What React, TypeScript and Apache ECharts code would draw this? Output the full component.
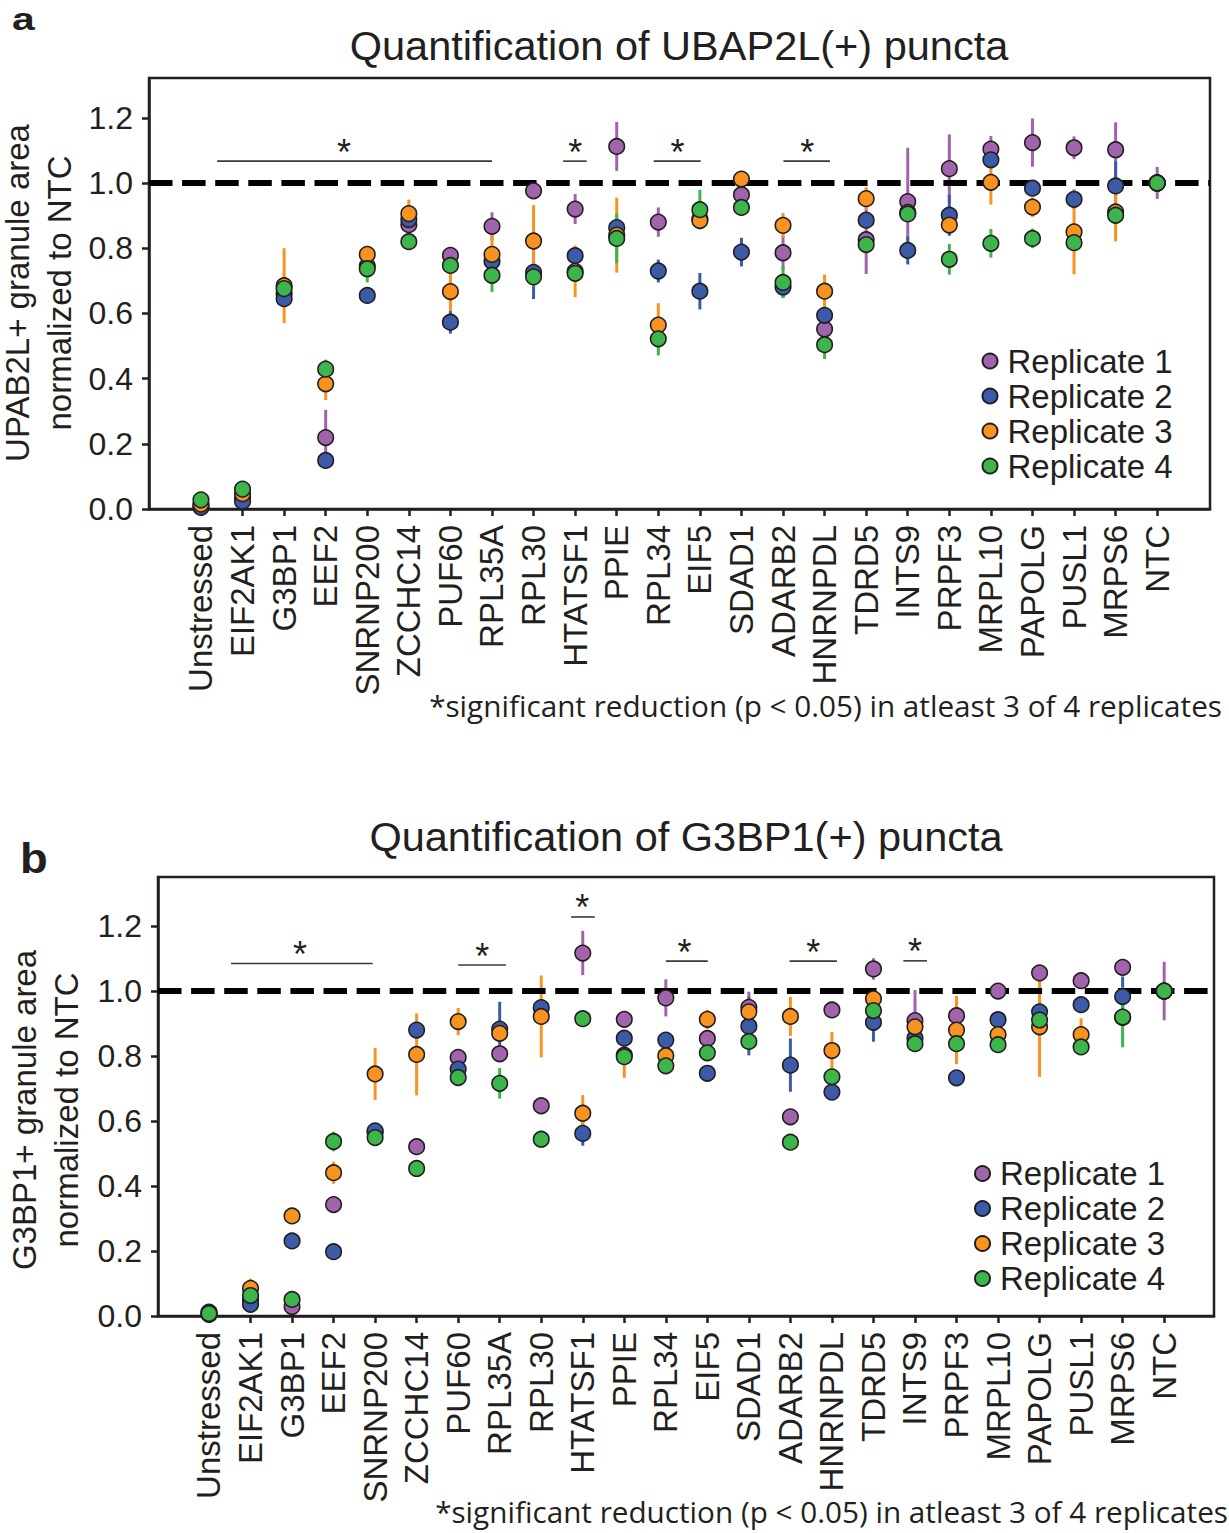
import React, { useEffect, useRef } from 'react';
import * as echarts from 'echarts';

const categories = ['Unstressed', 'EIF2AK1', 'G3BP1', 'EEF2', 'SNRNP200', 'ZCCHC14', 'PUF60', 'RPL35A', 'RPL30', 'HTATSF1', 'PPIE', 'RPL34', 'EIF5', 'SDAD1', 'ADARB2', 'HNRNPDL', 'TDRD5', 'INTS9', 'PRPF3', 'MRPL10', 'PAPOLG', 'PUSL1', 'MRPS6', 'NTC'];
const yTicks = [0, 0.2, 0.4, 0.6, 0.8, 1.0, 1.2];
const replicateNames = ['Replicate 1', 'Replicate 2', 'Replicate 3', 'Replicate 4'];
const replicateColors = ['#a163ab', '#3b5ba8', '#f7931e', '#3cb54a'];

// Panel a: UBAP2L(+) puncta
const ubap2lRep1 = [0.01, 0.035, 0.66, 0.219, 0.745, 0.872, 0.778, 0.867, 0.976, 0.92, 1.112, 0.88, 0.89, 0.964, 0.786, 0.552, 0.826, 0.943, 1.044, 1.104, 1.124, 1.108, 1.102, 1.0];
const ubap2lRep2 = [0.005, 0.024, 0.645, 0.149, 0.655, 0.888, 0.573, 0.76, 0.726, 0.777, 0.863, 0.73, 0.668, 0.788, 0.681, 0.594, 0.886, 0.793, 0.901, 1.071, 0.984, 0.95, 0.991, 1.0];
const ubap2lRep3 = [0.015, 0.047, 0.685, 0.384, 0.781, 0.906, 0.667, 0.781, 0.822, 0.729, 0.84, 0.564, 0.885, 1.012, 0.87, 0.668, 0.952, 0.91, 0.871, 1.002, 0.926, 0.85, 0.911, 1.0];
const ubap2lRep4 = [0.028, 0.061, 0.676, 0.429, 0.737, 0.82, 0.747, 0.717, 0.712, 0.723, 0.83, 0.522, 0.918, 0.925, 0.695, 0.504, 0.811, 0.905, 0.766, 0.815, 0.83, 0.817, 0.901, 1.0];
const ubap2lErr1 = [0.01, 0.01, 0.02, 0.085, 0.02, 0.02, 0.02, 0.043, 0.02, 0.046, 0.075, 0.045, 0.02, 0.02, 0.053, 0.02, 0.105, 0.165, 0.105, 0.04, 0.074, 0.035, 0.084, 0.049];
const ubap2lErr2 = [0.01, 0.01, 0.01, 0.01, 0.01, 0.02, 0.035, 0.02, 0.082, 0.02, 0.02, 0.035, 0.056, 0.044, 0.034, 0.02, 0.02, 0.043, 0.063, 0.02, 0.02, 0.03, 0.075, 0.01];
const ubap2lErr3 = [0.01, 0.01, 0.115, 0.05, 0.02, 0.043, 0.06, 0.06, 0.11, 0.079, 0.115, 0.067, 0.02, 0.02, 0.038, 0.051, 0.035, 0.02, 0.02, 0.068, 0.03, 0.13, 0.09, 0.01];
const ubap2lErr4 = [0.01, 0.01, 0.02, 0.029, 0.042, 0.02, 0.02, 0.051, 0.03, 0.02, 0.076, 0.051, 0.061, 0.02, 0.048, 0.044, 0.02, 0.02, 0.047, 0.044, 0.03, 0.02, 0.02, 0.01];
// significance bars: [from, to, y, star position] in category-index units
const ubap2lSig = [[0.39, 7.0, 1.067, 3.44], [8.71, 9.28, 1.067, 9.0], [10.89, 12.02, 1.067, 11.46], [14.01, 15.13, 1.067, 14.58]];

// Panel b: G3BP1(+) puncta
const g3bp1Rep1 = [0.012, 0.05, 0.029, 0.343, 0.565, 0.521, 0.796, 0.807, 0.647, 1.117, 0.913, 0.979, 0.854, 0.95, 0.613, 0.942, 1.068, 0.909, 0.924, 1.0, 1.056, 1.032, 1.073, 1.0];
const g3bp1Rep2 = [0.005, 0.036, 0.231, 0.198, 0.57, 0.88, 0.76, 0.883, 0.949, 0.562, 0.855, 0.849, 0.747, 0.892, 0.772, 0.689, 0.904, 0.855, 0.733, 0.912, 0.936, 0.958, 0.983, 1.0];
const g3bp1Rep3 = [0.01, 0.085, 0.308, 0.441, 0.745, 0.805, 0.906, 0.87, 0.922, 0.624, 0.803, 0.801, 0.913, 0.936, 0.922, 0.817, 0.976, 0.89, 0.88, 0.866, 0.89, 0.866, 0.919, 1.0];
const g3bp1Rep4 = [0.008, 0.063, 0.051, 0.537, 0.549, 0.454, 0.734, 0.716, 0.544, 0.915, 0.798, 0.77, 0.81, 0.845, 0.535, 0.736, 0.94, 0.838, 0.838, 0.835, 0.911, 0.828, 0.92, 1.0];
const g3bp1Err1 = [0.01, 0.01, 0.01, 0.01, 0.01, 0.02, 0.02, 0.02, 0.02, 0.068, 0.02, 0.057, 0.02, 0.048, 0.02, 0.02, 0.033, 0.094, 0.02, 0.02, 0.02, 0.02, 0.02, 0.09];
const g3bp1Err2 = [0.01, 0.01, 0.01, 0.01, 0.01, 0.02, 0.02, 0.084, 0.02, 0.038, 0.02, 0.02, 0.02, 0.09, 0.082, 0.02, 0.06, 0.03, 0.02, 0.02, 0.02, 0.02, 0.062, 0.01];
const g3bp1Err3 = [0.01, 0.03, 0.01, 0.034, 0.08, 0.126, 0.042, 0.02, 0.126, 0.056, 0.07, 0.02, 0.03, 0.02, 0.06, 0.057, 0.02, 0.02, 0.105, 0.02, 0.154, 0.05, 0.03, 0.01];
const g3bp1Err4 = [0.01, 0.01, 0.01, 0.03, 0.02, 0.01, 0.02, 0.047, 0.02, 0.01, 0.02, 0.02, 0.02, 0.02, 0.02, 0.02, 0.02, 0.02, 0.02, 0.02, 0.02, 0.02, 0.093, 0.01];
const g3bp1Sig = [[0.53, 3.94, 1.085, 2.19], [6.0, 7.15, 1.08, 6.58], [8.72, 9.29, 1.228, 8.99], [11.0, 12.01, 1.092, 11.45], [13.98, 15.12, 1.092, 14.55], [16.72, 17.29, 1.093, 17.0]];

const FONT = '"Liberation Sans", Arial, Helvetica, sans-serif';
const NOTE_FONT = '"Open Sans", "Noto Sans", sans-serif';
const INK = '#231f20';

const panels = [
  {
    grid: { left: 149, top: 78, width: 1061, height: 431 },
    xMin: -1.25, xMax: 24.27, yMax: 1.322,
    reps: [ubap2lRep1, ubap2lRep2, ubap2lRep3, ubap2lRep4],
    errs: [ubap2lErr1, ubap2lErr2, ubap2lErr3, ubap2lErr4],
    sig: ubap2lSig,
    legend: { left: 976.5, top: 338.5 },
  },
  {
    grid: { left: 158, top: 877, width: 1056, height: 439 },
    xMin: -1.228, xMax: 24.2, yMax: 1.351,
    reps: [g3bp1Rep1, g3bp1Rep2, g3bp1Rep3, g3bp1Rep4],
    errs: [g3bp1Err1, g3bp1Err2, g3bp1Err3, g3bp1Err4],
    sig: g3bp1Sig,
    legend: { left: 969, top: 1151 },
  },
];

function buildOption() {
  const grids: any[] = [];
  const xAxes: any[] = [];
  const yAxes: any[] = [];
  const series: any[] = [];
  const legends: any[] = [];
  const catIdx = categories.map((_, i) => i);
  const axisLine = { show: true, onZero: false, lineStyle: { color: INK, width: 2.5 } };

  panels.forEach((p, pi) => {
    grids.push({ ...p.grid, show: true, borderColor: INK, borderWidth: 2.5, backgroundColor: 'transparent' });
    xAxes.push({
      type: 'value', gridIndex: pi, min: p.xMin, max: p.xMax,
      axisLine,
      axisTick: { show: true, customValues: catIdx, length: 7, lineStyle: { color: INK, width: 2.5 } },
      axisLabel: {
        customValues: catIdx, rotate: 90, margin: 16, hideOverlap: false,
        formatter: (v: number) => categories[Math.round(v)] ?? '',
        fontFamily: FONT, fontSize: 33, color: INK,
      },
      splitLine: { show: false },
    });
    yAxes.push({
      type: 'value', gridIndex: pi, min: 0, max: p.yMax,
      axisLine,
      axisTick: { show: true, customValues: yTicks, length: 7, lineStyle: { color: INK, width: 2.5 } },
      axisLabel: {
        customValues: yTicks, margin: 16,
        formatter: (v: number) => v.toFixed(1),
        fontFamily: FONT, fontSize: 32, color: INK,
      },
      splitLine: { show: false },
    });

    // dashed reference line at 1.0
    series.push({
      type: 'line', name: 'ref' + pi, xAxisIndex: pi, yAxisIndex: pi,
      data: [[p.xMin, 1], [p.xMax, 1]], symbol: 'none', silent: true, z: 2,
      lineStyle: { color: '#000', width: 6, type: [23.5, 9.6] },
    });

    // error bars
    p.reps.forEach((vals, r) => {
      const color = replicateColors[r];
      series.push({
        type: 'custom', name: 'err' + pi + r, xAxisIndex: pi, yAxisIndex: pi, z: 1, silent: true,
        data: vals.map((v, i) => [i, v, p.errs[r][i]]),
        encode: { x: 0, y: 1 },
        renderItem: (params: any, api: any) => {
          const x = api.value(0), y = api.value(1), e = api.value(2);
          const a = api.coord([x, y - e]);
          const b = api.coord([x, y + e]);
          return { type: 'line', shape: { x1: a[0], y1: a[1], x2: b[0], y2: b[1] }, style: { stroke: color, lineWidth: 3 } };
        },
      });
    });

    // significance bars
    series.push({
      type: 'custom', name: 'sig' + pi, xAxisIndex: pi, yAxisIndex: pi, z: 4, silent: true,
      data: p.sig,
      encode: { x: [0, 1], y: 2 },
      renderItem: (params: any, api: any) => {
        const a = api.coord([api.value(0), api.value(2)]);
        const b = api.coord([api.value(1), api.value(2)]);
        const s = api.coord([api.value(3), api.value(2)]);
        return {
          type: 'group',
          children: [
            { type: 'line', shape: { x1: a[0], y1: a[1], x2: b[0], y2: b[1] }, style: { stroke: '#3a3a3a', lineWidth: 1.6 } },
            { type: 'text', x: s[0], y: s[1] - 9, style: { text: '*', fill: INK, font: `36px ${FONT}`, align: 'center', verticalAlign: 'middle' } },
          ],
        };
      },
    });

    // points
    p.reps.forEach((vals, r) => {
      series.push({
        type: 'scatter', name: replicateNames[r], xAxisIndex: pi, yAxisIndex: pi, z: 3,
        data: vals.map((v, i) => [i, v]),
        symbol: 'circle', symbolSize: 15.5, clip: false,
        itemStyle: { color: replicateColors[r], borderColor: INK, borderWidth: 1.6, opacity: 1 },
      });
    });

    legends.push({
      data: replicateNames, orient: 'vertical', left: p.legend.left, top: p.legend.top,
      icon: 'circle', itemWidth: 15, itemHeight: 15, itemGap: 0, selectedMode: false,
      textStyle: { fontFamily: FONT, fontSize: 33, color: INK, lineHeight: 35, padding: [0, 0, 0, 5] },
    });
  });

  const text = (t: string, x: number, y: number, font: string, align = 'center', rotation = 0, scaleX = 1) => ({
    type: 'text', x, y, rotation, scaleX, silent: true,
    style: { text: t, font, fill: INK, align, verticalAlign: 'middle' },
  });

  const graphic = [
    text('a', 12, 19, `bold 32px ${FONT}`, 'left', 0, 1.28),
    text('Quantification of UBAP2L(+) puncta', 679, 45, `41.5px ${FONT}`),
    text('UPAB2L+ granule area', 17, 293, `33px ${FONT}`, 'center', Math.PI / 2),
    text('normalized to NTC', 59, 293, `33px ${FONT}`, 'center', Math.PI / 2),
    text('*significant reduction (p < 0.05) in atleast 3 of 4 replicates', 1222, 705, `29.7px ${NOTE_FONT}`, 'right'),
    text('b', 20, 858, `bold 42px ${FONT}`, 'left', 0, 1.08),
    text('Quantification of G3BP1(+) puncta', 686, 836, `41.5px ${FONT}`),
    text('G3BP1+ granule area', 24, 1110, `33px ${FONT}`, 'center', Math.PI / 2),
    text('normalized to NTC', 66, 1110, `33px ${FONT}`, 'center', Math.PI / 2),
    text('*significant reduction (p < 0.05) in atleast 3 of 4 replicates', 1228, 1511, `29.7px ${NOTE_FONT}`, 'right'),
  ];

  return {
    animation: false,
    backgroundColor: '#ffffff',
    grid: grids,
    xAxis: xAxes,
    yAxis: yAxes,
    legend: legends,
    series,
    graphic,
  };
}

export default function App() {
  const ref = useRef<HTMLDivElement>(null);
  useEffect(() => {
    if (!ref.current) return;
    const chart = echarts.init(ref.current, undefined, { renderer: 'svg' });
    chart.setOption(buildOption() as any);
    return () => chart.dispose();
  }, []);
  return <div ref={ref} style={{ position: 'absolute', left: 0, top: 0, width: 1229, height: 1533, background: '#fff' }} />;
}
